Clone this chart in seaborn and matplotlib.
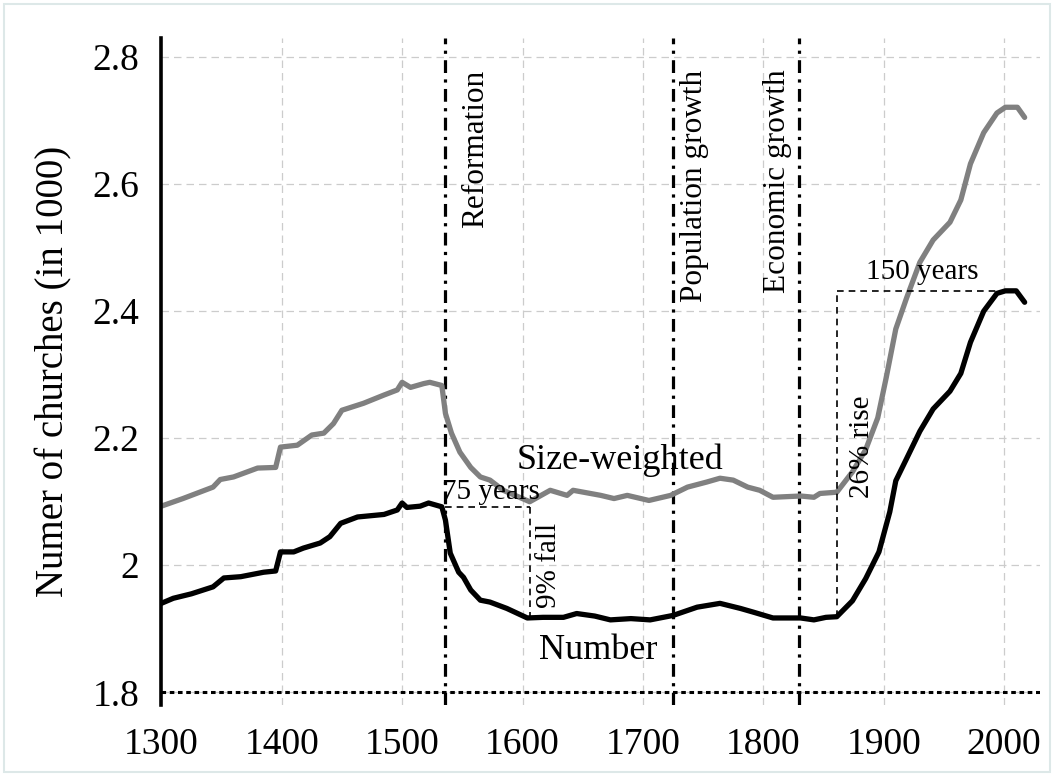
import numpy as np
import pandas as pd
import matplotlib
matplotlib.use('Agg')
import matplotlib.pyplot as plt
import seaborn as sns
from matplotlib.patches import Rectangle

# number of churches (in 1000)
years_n = [1300, 1310, 1325, 1343, 1352, 1366, 1385, 1395, 1399, 1410, 1418, 1432,
           1440, 1449, 1463, 1485, 1496, 1500, 1504, 1515, 1522, 1533, 1536, 1540,
           1547, 1551, 1557, 1565, 1573, 1587, 1604, 1617, 1634, 1645, 1660, 1673,
           1690, 1706, 1725, 1745, 1764, 1781, 1792, 1808, 1831, 1842, 1852, 1861,
           1874, 1885, 1896, 1905, 1910, 1919, 1930, 1941, 1955, 1964, 1972, 1983,
           1994, 2001, 2010, 2017]
number = [1.940, 1.948, 1.955, 1.966, 1.980, 1.982, 1.989, 1.991, 2.021, 2.021, 2.027, 2.035,
          2.045, 2.066, 2.076, 2.080, 2.087, 2.098, 2.091, 2.093, 2.098, 2.092, 2.071, 2.019,
          1.989, 1.981, 1.961, 1.945, 1.942, 1.932, 1.917, 1.918, 1.918, 1.924, 1.920, 1.914,
          1.916, 1.914, 1.921, 1.934, 1.940, 1.932, 1.926, 1.917, 1.917, 1.914, 1.918, 1.919,
          1.944, 1.979, 2.021, 2.084, 2.133, 2.168, 2.211, 2.246, 2.274, 2.302, 2.351, 2.400,
          2.428, 2.432, 2.432, 2.414]

# size-weighted number of churches
years_w = [1300, 1318, 1343, 1349, 1360, 1380, 1395, 1399, 1413, 1425, 1435, 1443,
           1450, 1468, 1485, 1496, 1500, 1507, 1518, 1523, 1533, 1536, 1541, 1548,
           1557, 1565, 1573, 1584, 1606, 1623, 1637, 1642, 1665, 1676, 1687, 1705,
           1723, 1737, 1753, 1764, 1775, 1787, 1797, 1808, 1831, 1842, 1847, 1861,
           1874, 1885, 1895, 1902, 1910, 1919, 1930, 1941, 1955, 1964, 1972, 1983,
           1994, 2001, 2011, 2017]
weighted = [2.093, 2.105, 2.123, 2.135, 2.139, 2.153, 2.154, 2.186, 2.189, 2.205, 2.208, 2.223,
            2.244, 2.255, 2.268, 2.276, 2.288, 2.280, 2.286, 2.288, 2.283, 2.239, 2.208, 2.178,
            2.154, 2.139, 2.134, 2.118, 2.100, 2.118, 2.110, 2.118, 2.110, 2.105, 2.110, 2.102,
            2.110, 2.123, 2.131, 2.137, 2.134, 2.123, 2.118, 2.107, 2.109, 2.107, 2.113, 2.115,
            2.147, 2.182, 2.232, 2.295, 2.372, 2.421, 2.477, 2.512, 2.540, 2.575, 2.632, 2.681,
            2.712, 2.721, 2.721, 2.705]

event_years = [1536, 1725, 1830]
event_labels = ['Reformation', 'Population growth', 'Economic growth']
event_label_x = [1561, 1743, 1812]
fall_years = (1536, 1606)
rise_years = (1861, 2001)

df_n = pd.DataFrame({'year': years_n, 'value': number})
df_w = pd.DataFrame({'year': years_w, 'value': weighted})

sns.set_theme(style='white')
plt.rcParams['font.family'] = ['Liberation Serif', 'DejaVu Serif']
plt.rcParams['text.color'] = 'black'
plt.rcParams['axes.labelcolor'] = 'black'
plt.rcParams['xtick.labelcolor'] = 'black'
plt.rcParams['ytick.labelcolor'] = 'black'

fig = plt.figure(figsize=(10.54, 7.76), dpi=100)
ax = fig.add_axes([0.153, 0.0915, 0.834, 0.8595])

ax.grid(True, color='#cccccc', linestyle=(0, (6, 4)), linewidth=0.9)
ax.set_axisbelow(True)

sns.lineplot(data=df_w, x='year', y='value', color='#808080', lw=3.8, ax=ax)
sns.lineplot(data=df_n, x='year', y='value', color='black', lw=3.8, ax=ax)

for yr in event_years:
    ax.axvline(yr, color='black', lw=2.3, linestyle=(0, (4, 2, 1, 2)), zorder=1.5)
ax.axhline(1.8, color='black', lw=2.2, linestyle=(0, (1.5, 1.2)), zorder=1.5)

# fall and rise markers
n_before = np.interp(fall_years[0] - 3, years_n, number)
n_trough = np.interp(fall_years[1], years_n, number)
ax.plot(fall_years, [n_before, n_before], color='black', lw=1.2, ls=(0, (4, 3)))
ax.plot([fall_years[1]] * 2, [n_before, n_trough], color='black', lw=1.2, ls=(0, (4, 3)))
r_low = np.interp(rise_years[0], years_n, number)
r_high = max(number)
ax.plot([rise_years[0]] * 2, [r_low, r_high], color='black', lw=1.2, ls=(0, (4, 3)))
ax.plot(rise_years, [r_high, r_high], color='black', lw=1.2, ls=(0, (4, 3)))

for lx, lab in zip(event_label_x, event_labels):
    ax.text(lx, 2.78, lab, rotation=90, ha='center', va='top', fontsize=22.5)
ax.text(1681, 2.165, 'Size-weighted', ha='center', va='center', fontsize=26)
ax.text(1663, 1.866, 'Number', ha='center', va='center', fontsize=26)
ax.text(1533, 2.115, '75 years', ha='left', va='center', fontsize=21)
ax.text(1622, 2.0, '9% fall', rotation=90, ha='center', va='center', fontsize=21)
ax.text(1882, 2.187, '26% rise', rotation=90, ha='center', va='center', fontsize=21)
ax.text(1932, 2.461, '150 years', ha='center', va='center', fontsize=21)

ax.set_xlim(1300, 2030)
ax.set_ylim(1.78, 2.83)
ax.set_xticks(range(1300, 2001, 100))
ax.set_yticks([1.8, 2.0, 2.2, 2.4, 2.6, 2.8])
ax.yaxis.set_major_formatter(plt.FuncFormatter(lambda v, p: f'{v:g}'))
ax.tick_params(axis='both', labelsize=27, length=8, color='#cccccc', width=1, pad=8)
ax.set_xlabel('')
ax.set_ylabel('Numer of churches (in 1000)', fontsize=28, labelpad=14)

for s in ['top', 'right', 'bottom']:
    ax.spines[s].set_visible(False)
ax.spines['left'].set_color('black')
ax.spines['left'].set_linewidth(2.6)

fig.patches.append(Rectangle((0.004, 0.005), 0.992, 0.99, transform=fig.transFigure,
                             fill=False, edgecolor='#dde8e8', lw=1.5))

fig.savefig('out.png', dpi=100)
